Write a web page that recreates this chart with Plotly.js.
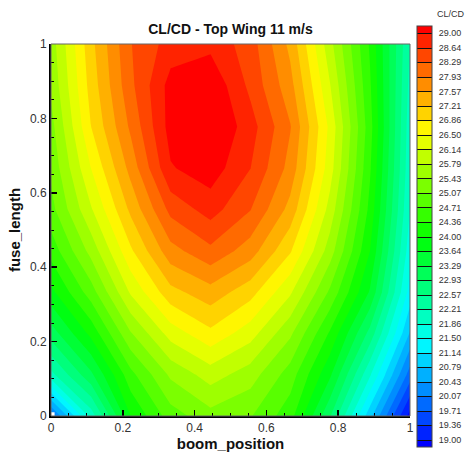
<!DOCTYPE html>
<html>
<head>
<meta charset="utf-8">
<script src="https://cdn.plot.ly/plotly-3.0.1.min.js"></script>
<style>
  html, body { margin: 0; padding: 0; background: #fff; }
  #chart { width: 474px; height: 453px; }
</style>
</head>
<body>
<div id="chart"></div>
<script>
// grid coordinates (boom_position, fuse_length)
var boomPosition = [0, 0.1111, 0.2222, 0.3333, 0.4444, 0.5556, 0.6667, 0.7778, 0.8889, 1];
var fuseLength   = [0, 0.1111, 0.2222, 0.3333, 0.4444, 0.5556, 0.6667, 0.7778, 0.8889, 1];

// CL/CD values, one row per fuse_length (bottom to top)
var clcd_y0 = [19.95, 22.0, 24.0, 24.9, 25.3, 25.1, 24.5, 22.95, 20.9, 18.85];
var clcd_y1 = [22.1, 23.2, 24.6, 25.5, 25.95, 25.6, 24.9, 23.7, 21.9, 19.9];
var clcd_y2 = [23.1, 24.1, 25.4, 26.3, 26.77, 26.3, 25.5, 24.3, 22.8, 20.75];
var clcd_y3 = [23.9, 24.9, 26.2, 27.1, 27.43, 27.0, 26.2, 25.0, 23.6, 21.35];
var clcd_y4 = [24.5, 25.55, 26.8, 27.8, 28.2, 27.75, 26.9, 25.6, 24.0, 21.65];
var clcd_y5 = [24.95, 26.1, 27.3, 28.4, 28.8, 28.3, 27.45, 26.0, 24.25, 21.85];
var clcd_y6 = [25.15, 26.5, 27.7, 28.97, 29.2, 28.65, 27.8, 26.3, 24.4, 21.95];
var clcd_y7 = [25.3, 26.85, 28.0, 29.15, 29.4, 28.8, 27.95, 26.4, 24.5, 22.0];
var clcd_y8 = [25.5, 27.0, 28.2, 29.14, 29.3, 28.55, 27.7, 26.15, 24.4, 22.1];
var clcd_y9 = [25.6, 27.1, 28.27, 28.8, 28.9, 28.46, 27.47, 25.9, 24.3, 22.2];

// contour levels / colorbar labels
var levelStart = 19.0;
var levelEnd = 29.0;
var levelIntervals = 28;
var levelLabels = ["19.00","19.36","19.71","20.07","20.43","20.79","21.14","21.50","21.86","22.21",
  "22.57","22.93","23.29","23.64","24.00","24.36","24.71","25.07","25.43","25.79",
  "26.14","26.50","26.86","27.21","27.57","27.93","28.29","28.64","29.00"];

var z = [clcd_y0, clcd_y1, clcd_y2, clcd_y3, clcd_y4, clcd_y5, clcd_y6, clcd_y7, clcd_y8, clcd_y9];
var levelSize = (levelEnd - levelStart) / levelIntervals;
var levelVals = levelLabels.map(function (s) { return parseFloat(s); });

var colorscale = [
  [0, 'rgb(0,0,255)'],
  [0.25, 'rgb(0,255,255)'],
  [0.5, 'rgb(0,255,0)'],
  [0.75, 'rgb(255,255,0)'],
  [1, 'rgb(255,0,0)']
];

var FONT = 'Arial, "Liberation Sans", sans-serif';

var main = {
  type: 'contour',
  x: boomPosition,
  y: fuseLength,
  z: z,
  colorscale: colorscale,
  autocontour: false,
  contours: { start: levelStart, end: levelEnd, size: levelSize, coloring: 'fill', showlines: false },
  line: { smoothing: 0, width: 0 },
  showscale: false,
  hoverinfo: 'skip'
};

// same data, used only to draw the legend bar with black level lines
var legendTrace = {
  type: 'contour',
  x: boomPosition,
  y: fuseLength,
  z: z,
  xaxis: 'x2',
  yaxis: 'y2',
  colorscale: colorscale,
  autocontour: false,
  contours: { start: levelStart, end: levelEnd, size: levelSize, coloring: 'fill', showlines: true },
  line: { smoothing: 0, width: 1, color: '#111' },
  showscale: true,
  hoverinfo: 'skip',
  colorbar: {
    x: (423 - 51) / 365,
    xanchor: 'left',
    xpad: 0,
    y: ((416 - 26) / 372 + (416 - 447) / 372) / 2,
    yanchor: 'middle',
    ypad: 0,
    len: 421,
    lenmode: 'pixels',
    thickness: 15,
    thicknessmode: 'pixels',
    outlinecolor: '#444',
    outlinewidth: 1,
    tickmode: 'array',
    tickvals: levelVals,
    ticktext: levelLabels,
    ticks: 'outside',
    ticklen: 5,
    tickcolor: 'rgba(0,0,0,0)',
    tickfont: { family: FONT, size: 9, color: '#333' },
    title: { text: '' }
  }
};

var layout = {
  width: 474,
  height: 453,
  margin: { l: 51, r: 58, t: 44, b: 37, pad: 0 },
  paper_bgcolor: '#fff',
  plot_bgcolor: '#fff',
  showlegend: false,
  title: {
    text: 'CL/CD - Top Wing 11 m/s',
    x: 237 / 474,
    xanchor: 'center',
    xref: 'paper',
    y: 1 - 29 / 453,
    yanchor: 'middle',
    font: { family: FONT, size: 14, weight: 'bold', color: '#111' }
  },
  xaxis: {
    range: [0, 1],
    tickvals: [0, 0.2, 0.4, 0.6, 0.8, 1],
    ticktext: ['0', '0.2', '0.4', '0.6', '0.8', '1'],
    ticks: 'inside',
    ticklen: 6,
    tickwidth: 1.5,
    tickcolor: '#000',
    minor: { ticks: 'inside', ticklen: 3, tickwidth: 1, tickcolor: '#000', dtick: 0.05, tick0: 0, showgrid: false },
    showgrid: false,
    zeroline: false,
    showline: true,
    linecolor: '#000',
    linewidth: 2,
    tickfont: { family: FONT, size: 12, color: '#333' },
    title: { text: 'boom_position', standoff: 3, font: { family: FONT, size: 15, weight: 'bold', color: '#111' } },
    automargin: false
  },
  yaxis: {
    range: [0, 1],
    tickvals: [0, 0.2, 0.4, 0.6, 0.8, 1],
    ticktext: ['0', '0.2', '0.4', '0.6', '0.8', '1'],
    ticks: 'inside',
    ticklen: 6,
    tickwidth: 1.5,
    tickcolor: '#000',
    minor: { ticks: 'inside', ticklen: 3, tickwidth: 1, tickcolor: '#000', dtick: 0.05, tick0: 0, showgrid: false },
    showgrid: false,
    zeroline: false,
    showline: true,
    linecolor: '#000',
    linewidth: 2,
    tickfont: { family: FONT, size: 12, color: '#333' },
    title: { text: 'fuse_length', standoff: 6, font: { family: FONT, size: 15, weight: 'bold', color: '#111' } },
    automargin: false
  },
  xaxis2: { domain: [0, 0.01], range: [10, 11], visible: false, anchor: 'y2', fixedrange: true },
  yaxis2: { domain: [0, 0.01], range: [10, 11], visible: false, anchor: 'x2', fixedrange: true },
  shapes: [{
    type: 'rect', xref: 'paper', yref: 'paper', x0: 0, x1: 1, y0: 0, y1: 1,
    line: { color: '#666', width: 1 }, fillcolor: 'rgba(0,0,0,0)', layer: 'above'
  }],
  annotations: [{
    text: 'CL/CD',
    xref: 'paper', yref: 'paper',
    x: (458 - 51) / 365, y: (416 - 14) / 372,
    xanchor: 'center', yanchor: 'middle',
    showarrow: false,
    font: { family: FONT, size: 9, color: '#333' }
  }]
};

Plotly.newPlot('chart', [main, legendTrace], layout, { displayModeBar: false, staticPlot: true });
</script>
</body>
</html>
